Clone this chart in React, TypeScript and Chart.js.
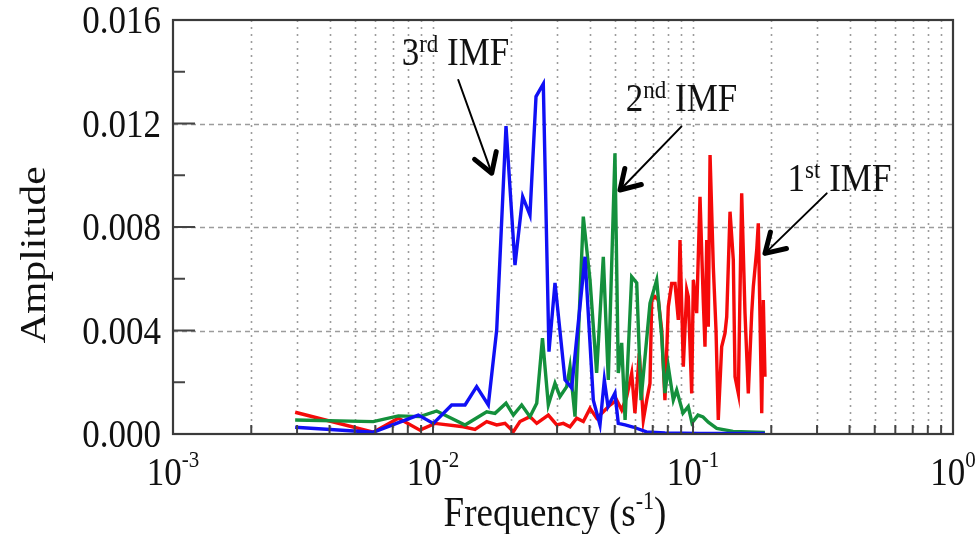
import React, { useEffect, useRef } from 'react';
import { Chart, registerables } from 'chart.js';

Chart.register(...registerables);

const FONT = '"Liberation Serif", "Times New Roman", serif';
const STRETCH = 1.12;

// ---- data (frequency in 1/s, amplitude) ----
const blueFreq = [0.00295, 0.00589, 0.00878, 0.01003, 0.0118, 0.01328, 0.01472, 0.01632, 0.01758, 0.01909, 0.02067, 0.02213, 0.0236, 0.0249, 0.02656, 0.02793, 0.02946, 0.03219, 0.03416, 0.03842, 0.04136, 0.04388, 0.0456, 0.0471, 0.0501, 0.0516, 0.0548, 0.0588, 0.0662, 0.078, 0.106, 0.152, 0.189];
const blueAmp = [0.00026, 0.00007, 0.00073, 0.00041, 0.00112, 0.00112, 0.00183, 0.00112, 0.00402, 0.0119, 0.00653, 0.00917, 0.00846, 0.01304, 0.01353, 0.00318, 0.00584, 0.00209, 0.00178, 0.00685, 0.00131, 0.00035, 0.00209, 0.00106, 0.00158, 0.00041, 0.00035, 0.00027, 0.00008, 0.00004, 0.00002, 0.00002, 0.00002];

const greenFreq = [0.00295, 0.00589, 0.00736, 0.00891, 0.01033, 0.01328, 0.01609, 0.01732, 0.01909, 0.02037, 0.02193, 0.0236, 0.02506, 0.02637, 0.02777, 0.02946, 0.0308, 0.03268, 0.03365, 0.03517, 0.03785, 0.04017, 0.0426, 0.04519, 0.04723, 0.0501, 0.0516, 0.05318, 0.0548, 0.0581, 0.06075, 0.0631, 0.06833, 0.0725, 0.0758, 0.078, 0.08035, 0.084, 0.08655, 0.0915, 0.0959, 0.0991, 0.1045, 0.1093, 0.1145, 0.1234, 0.1425, 0.189];
const greenAmp = [0.00054, 0.00048, 0.0007, 0.00067, 0.00089, 0.00035, 0.00086, 0.0008, 0.00119, 0.00073, 0.00112, 0.00067, 0.00119, 0.0037, 0.00112, 0.00196, 0.00145, 0.00183, 0.0026, 0.00067, 0.0084, 0.00595, 0.00236, 0.00685, 0.00209, 0.01085, 0.00236, 0.00352, 0.00054, 0.00608, 0.00584, 0.00131, 0.00505, 0.00595, 0.00376, 0.00158, 0.0026, 0.00131, 0.0017, 0.00081, 0.00106, 0.00043, 0.00073, 0.00066, 0.00046, 0.00022, 0.0001, 0.00006];

const redFreq = [0.00295, 0.00589, 0.00736, 0.00891, 0.01018, 0.01308, 0.0145, 0.01609, 0.01758, 0.01892, 0.02037, 0.0216, 0.0236, 0.02506, 0.02777, 0.02991, 0.03171, 0.03365, 0.0357, 0.03785, 0.04017, 0.0426, 0.04519, 0.04795, 0.05088, 0.05318, 0.05559, 0.0581, 0.0598, 0.06215, 0.0644, 0.06637, 0.06833, 0.06938, 0.07142, 0.07355, 0.0758, 0.078, 0.08035, 0.0828, 0.08527, 0.0878, 0.08913, 0.09177, 0.0946, 0.09592, 0.09885, 0.1003, 0.1033, 0.1064, 0.1095, 0.1112, 0.1129, 0.1145, 0.1163, 0.1197, 0.1226, 0.1251, 0.1289, 0.1327, 0.1348, 0.1388, 0.1429, 0.1451, 0.1494, 0.1539, 0.1585, 0.1632, 0.1682, 0.1706, 0.1758, 0.1783, 0.1838, 0.1864, 0.1892];
const redAmp = [0.00084, 0.00007, 0.00061, 0.00015, 0.00041, 0.00028, 0.00018, 0.00048, 0.00035, 0.00041, 0.00009, 0.00048, 0.00067, 0.00041, 0.00073, 0.00035, 0.00041, 0.00028, 0.00061, 0.00048, 0.00099, 0.00061, 0.00086, 0.00112, 0.00131, 0.00093, 0.00144, 0.00235, 0.00081, 0.00312, 0.00054, 0.00131, 0.00196, 0.00518, 0.00531, 0.00518, 0.00402, 0.00131, 0.00492, 0.00582, 0.00582, 0.00441, 0.0075, 0.0026, 0.00557, 0.00531, 0.00157, 0.00595, 0.00467, 0.00917, 0.00518, 0.00337, 0.0075, 0.00415, 0.01078, 0.00647, 0.00402, 0.00054, 0.00337, 0.00389, 0.00453, 0.00859, 0.00673, 0.00221, 0.00157, 0.0093, 0.00467, 0.00157, 0.00467, 0.00569, 0.00711, 0.00814, 0.0008, 0.00518, 0.00221];

// ---- axes ----
const xMin = 0.001;
const xMax = 1;
const xDecades = [-3, -2, -1, 0];
const xMinorMultipliers = [2, 3, 4, 5, 6, 7, 8, 9];
const yMin = 0;
const yMax = 0.016;
const yTicks = [0, 0.004, 0.008, 0.012, 0.016];
const yMinorTicks = [0.002, 0.006, 0.01, 0.014];
const yTickLabels = ['0.000', '0.004', '0.008', '0.012', '0.016'];

// ---- annotations (positions in data units) ----
const annLabels = [
  { num: '3', sup: 'rd', rest: ' IMF', tf: 0.0122, ta: 0.01426, f0: 0.01251, a0: 0.01368, f1: 0.01682, a1: 0.01008 },
  { num: '2', sup: 'nd', rest: ' IMF', tf: 0.0903, ta: 0.01248, f0: 0.0902, a0: 0.01188, f1: 0.0524, a1: 0.00943 },
  { num: '1', sup: 'st', rest: ' IMF', tf: 0.366, ta: 0.00939, f0: 0.3268, a0: 0.0093, f1: 0.1892, a1: 0.00698 },
];

const toPts = (f: number[], a: number[]) => f.map((v, i) => ({ x: v, y: a[i] }));

function sText(ctx: CanvasRenderingContext2D, t: string, x: number, y: number) {
  ctx.save();
  ctx.translate(x, y);
  ctx.scale(1, STRETCH);
  ctx.fillText(t, 0, 0);
  ctx.restore();
}

const decorPlugin = {
  id: 'decor',
  beforeDatasetsDraw(chart: any) {
    const { ctx, chartArea, scales } = chart;
    const { left, right, top, bottom } = chartArea;
    const xs = scales.x;
    const ys = scales.y;
    ctx.save();
    ctx.strokeStyle = '#9c9c9c';
    ctx.lineWidth = 1.6;
    ctx.setLineDash([2, 5]);
    for (const d of xDecades) {
      for (const m of [1, ...xMinorMultipliers]) {
        const v = m * Math.pow(10, d);
        if (v <= xMin || v >= xMax) continue;
        const px = Math.round(xs.getPixelForValue(v)) + 0.5;
        ctx.beginPath();
        ctx.moveTo(px, top);
        ctx.lineTo(px, bottom);
        ctx.stroke();
      }
    }
    ctx.setLineDash([5, 4]);
    for (const v of yTicks) {
      if (v <= yMin || v >= yMax) continue;
      const py = Math.round(ys.getPixelForValue(v)) + 0.5;
      ctx.beginPath();
      ctx.moveTo(left, py);
      ctx.lineTo(right, py);
      ctx.stroke();
    }
    ctx.restore();
  },
  afterDraw(chart: any) {
    const { ctx, chartArea, scales } = chart;
    const { left, right, top, bottom } = chartArea;
    const xs = scales.x;
    const ys = scales.y;
    ctx.save();
    ctx.setLineDash([]);
    ctx.strokeStyle = '#444';
    ctx.lineWidth = 2;
    for (const d of xDecades) {
      for (const m of [1, ...xMinorMultipliers]) {
        const v = m * Math.pow(10, d);
        if (v < xMin || v > xMax) continue;
        const px = xs.getPixelForValue(v);
        ctx.beginPath();
        ctx.moveTo(px, bottom);
        ctx.lineTo(px, bottom - (m === 1 ? 12 : 9));
        ctx.stroke();
      }
    }
    for (const v of yTicks) {
      const py = ys.getPixelForValue(v);
      ctx.beginPath();
      ctx.moveTo(left, py);
      ctx.lineTo(left + 22, py);
      ctx.stroke();
    }
    for (const v of yMinorTicks) {
      const py = ys.getPixelForValue(v);
      ctx.beginPath();
      ctx.moveTo(left, py);
      ctx.lineTo(left + 12, py);
      ctx.stroke();
    }
    ctx.strokeStyle = '#3a3a3a';
    ctx.lineWidth = 2.2;
    ctx.strokeRect(left, top, right - left, bottom - top);

    ctx.fillStyle = '#111';
    ctx.textBaseline = 'alphabetic';
    // y tick labels
    ctx.font = `35px ${FONT}`;
    ctx.textAlign = 'right';
    yTicks.forEach((v, i) => {
      const py = ys.getPixelForValue(v);
      sText(ctx, yTickLabels[i], left - 12, py + 13);
    });
    // x tick labels 10^d
    ctx.textAlign = 'left';
    for (const d of xDecades) {
      const px = xs.getPixelForValue(Math.pow(10, d));
      ctx.font = `35px ${FONT}`;
      const w1 = ctx.measureText('10').width;
      ctx.font = `21px ${FONT}`;
      const supTxt = d === 0 ? '0' : '-' + Math.abs(d);
      const w2 = ctx.measureText(supTxt).width;
      const x0 = px - (w1 + w2) / 2;
      ctx.font = `35px ${FONT}`;
      sText(ctx, '10', x0, bottom + 51);
      ctx.font = `21px ${FONT}`;
      sText(ctx, supTxt, x0 + w1, bottom + 33);
    }
    // x title
    {
      const parts = [
        { t: 'Frequency (s', f: 37, dy: 0 },
        { t: '-1', f: 22, dy: -17 },
        { t: ')', f: 37, dy: 0 },
      ];
      let tw = 0;
      for (const p of parts) { ctx.font = `${p.f}px ${FONT}`; tw += ctx.measureText(p.t).width; }
      let x = (left + right) / 2 - 8 - tw / 2;
      const y = bottom + 92;
      for (const p of parts) {
        ctx.font = `${p.f}px ${FONT}`;
        sText(ctx, p.t, x, y + p.dy);
        x += ctx.measureText(p.t).width;
      }
    }
    // y title (stretched along its length, as in the picture)
    ctx.save();
    ctx.translate(45, 255);
    ctx.rotate(-Math.PI / 2);
    ctx.scale(1.15, 1);
    ctx.font = `36px ${FONT}`;
    ctx.textAlign = 'center';
    ctx.fillText('Amplitude', 0, 0);
    ctx.restore();

    // annotations
    ctx.textAlign = 'left';
    for (const a of annLabels) {
      const tx = xs.getPixelForValue(a.tf);
      const ty = ys.getPixelForValue(a.ta);
      ctx.font = `35px ${FONT}`;
      const wn = ctx.measureText(a.num).width;
      const wr = ctx.measureText(a.rest).width;
      ctx.font = `23px ${FONT}`;
      const ws = ctx.measureText(a.sup).width;
      let x = tx - (wn + ws + wr) / 2;
      ctx.font = `35px ${FONT}`;
      sText(ctx, a.num, x, ty);
      x += wn;
      ctx.font = `23px ${FONT}`;
      sText(ctx, a.sup, x, ty - 13);
      x += ws;
      ctx.font = `35px ${FONT}`;
      sText(ctx, a.rest, x, ty);

      const x0 = xs.getPixelForValue(a.f0);
      const y0 = ys.getPixelForValue(a.a0);
      const x1 = xs.getPixelForValue(a.f1);
      const y1 = ys.getPixelForValue(a.a1);
      ctx.strokeStyle = '#000';
      ctx.lineWidth = 2;
      ctx.lineCap = 'round';
      ctx.beginPath();
      ctx.moveTo(x0, y0);
      ctx.lineTo(x1, y1);
      ctx.stroke();
      const ang = Math.atan2(y1 - y0, x1 - x0);
      const hl = 22;
      const spread = 0.55;
      ctx.lineWidth = 5;
      ctx.lineJoin = 'round';
      ctx.beginPath();
      ctx.moveTo(x1 - hl * Math.cos(ang - spread), y1 - hl * Math.sin(ang - spread));
      ctx.lineTo(x1, y1);
      ctx.lineTo(x1 - hl * Math.cos(ang + spread), y1 - hl * Math.sin(ang + spread));
      ctx.stroke();
    }
    ctx.restore();
  },
};

export default function App() {
  const canvasRef = useRef<HTMLCanvasElement | null>(null);

  useEffect(() => {
    document.body.style.margin = '0';
    const canvas = canvasRef.current;
    if (!canvas) return;
    const chart = new Chart(canvas, {
      type: 'scatter',
      data: {
        datasets: [
          { label: '3rd IMF', data: toPts(blueFreq, blueAmp), borderColor: '#1010f5', backgroundColor: '#1010f5' },
          { label: '2nd IMF', data: toPts(greenFreq, greenAmp), borderColor: '#14903c', backgroundColor: '#14903c' },
          { label: '1st IMF', data: toPts(redFreq, redAmp), borderColor: '#f50a0a', backgroundColor: '#f50a0a' },
        ].map((d) => ({ ...d, showLine: true, pointRadius: 0, borderWidth: 3.4, tension: 0, fill: false })),
      },
      options: {
        animation: false,
        responsive: false,
        devicePixelRatio: 1,
        layout: { padding: { left: 173, right: 24, top: 20, bottom: 100 } },
        plugins: { legend: { display: false }, tooltip: { enabled: false } },
        scales: {
          x: { type: 'logarithmic', min: xMin, max: xMax, display: false },
          y: { type: 'linear', min: yMin, max: yMax, display: false },
        },
      },
      plugins: [decorPlugin],
    });
    return () => chart.destroy();
  }, []);

  return (
    <div style={{ width: 977, height: 534, background: '#fff' }}>
      <canvas ref={canvasRef} width={977} height={534} style={{ display: 'block' }} />
    </div>
  );
}
